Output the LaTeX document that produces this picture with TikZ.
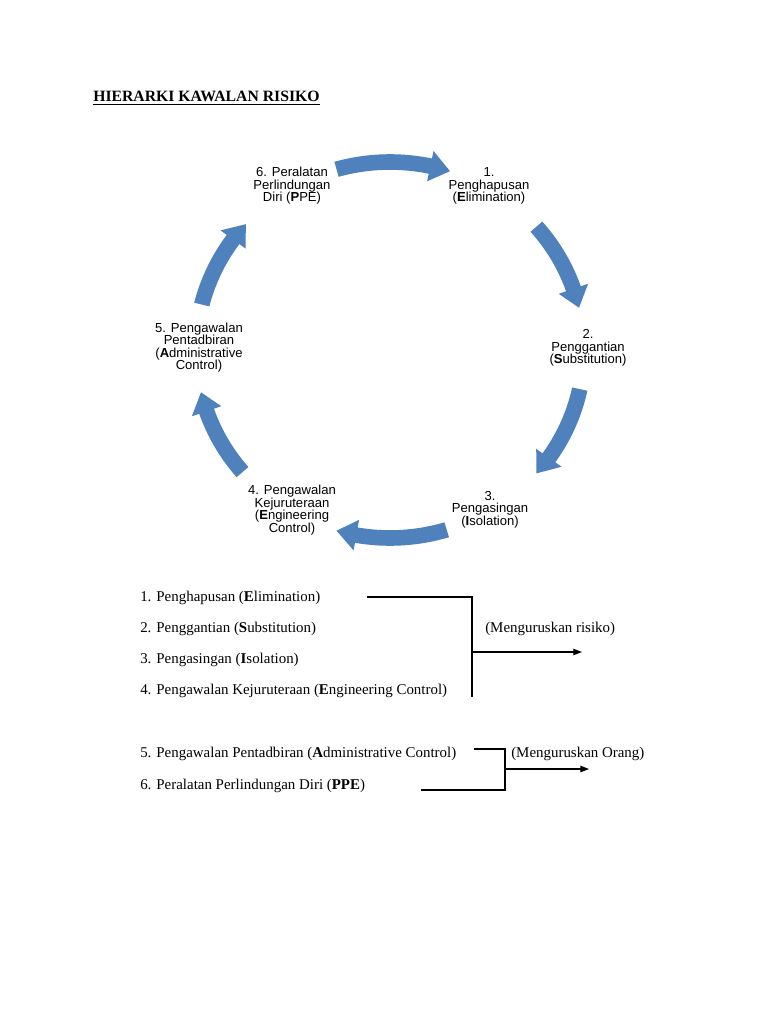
\documentclass[tikz,border=0pt]{standalone}
\usepackage{fontspec}
\setmainfont{Liberation Serif}
\newfontfamily\arialf{Liberation Sans}
\usetikzlibrary{arrows.meta}
\definecolor{arrowblue}{RGB}{79,129,189}
\newcommand\cx{390}
\newcommand\cy{350}
\newcommand\Rx{194}
\newcommand\Ry{188}
\newcommand\aw{7.8}
\newcommand\ah{15.5}
\newcommand\cycarrow[3]{%
  \fill[arrowblue] plot[domain=#1:#2, samples=24] ({\cx+(\Rx+\aw)*cos(\x)},{\cy-(\Ry+\aw)*sin(\x)})
   -- ({\cx+(\Rx+\ah)*cos(#2)},{\cy-(\Ry+\ah)*sin(#2)})
   -- ({\cx+\Rx*cos(#3)},{\cy-\Ry*sin(#3)})
   -- ({\cx+(\Rx-\ah)*cos(#2)},{\cy-(\Ry-\ah)*sin(#2)})
   -- plot[domain=#2:#1, samples=24] ({\cx+(\Rx-\aw)*cos(\x)},{\cy-(\Ry-\aw)*sin(\x)}) -- cycle;}
\begin{document}
\begin{tikzpicture}[x=0.75pt,y=-0.75pt,
  lbl/.style={font=\arialf\fontsize{9.8}{9.4}\selectfont, align=center, inner sep=0},
  item/.style={font=\fontsize{11.2}{13}\selectfont, anchor=west, inner sep=0},
  conn/.style={line width=0.8pt},
  connarrow/.style={line width=0.8pt,-{Triangle[length=6.5pt,width=4.8pt]}}]
\useasboundingbox (0,0) rectangle (768,1024);
\fill[white] (0,0) rectangle (768,1024);

\node[anchor=base west, inner sep=0, font=\bfseries\fontsize{11.8}{13}\selectfont] (title) at (93,102) {\underline{HIERARKI KAWALAN RISIKO}};

% cycle arrows
\cycarrow{106}{78}{72}
\cycarrow{41}{19}{13}
\cycarrow{-12}{-35}{-41}
\cycarrow{-73}{-100}{-106}
\cycarrow{-139.5}{-161}{-167}
\cycarrow{166}{144}{138}

% cycle labels
\node[lbl] (s1) at (489,186) {1.\\Penghapusan\\(\textbf{E}limination)};
\node[lbl] (s2) at (588,348) {2.\\Penggantian\\(\textbf{S}ubstitution)};
\node[lbl] (s3) at (490,509.5) {3.\\Pengasingan\\(\textbf{I}solation)};
\node[lbl] (s4) at (292,510) {4. Pengawalan\\Kejuruteraan\\(\textbf{E}ngineering\\Control)};
\node[lbl] (s5) at (199,347.5) {5. Pengawalan\\Pentadbiran\\(\textbf{A}dministrative\\Control)};
\node[lbl] (s6) at (292,186) {6. Peralatan\\Perlindungan\\Diri (\textbf{P}PE)};

% lists
\node[item] (i1) at (140,598) {1. Penghapusan (\textbf{E}limination)};
\node[item] (i2) at (140,629) {2. Penggantian (\textbf{S}ubstitution)};
\node[item] (i3) at (140,660) {3. Pengasingan (\textbf{I}solation)};
\node[item] (i4) at (140,691) {4. Pengawalan Kejuruteraan (\textbf{E}ngineering Control)};
\node[item] (risiko) at (485,629) {(Menguruskan risiko)};

\coordinate (r1) at (367,597);
\coordinate (r2) at (472,597);
\coordinate (r3) at (472,697);
\coordinate (r4) at (472,652);
\coordinate (r5) at (582,652);
\draw[conn] (r1) -- (r2) -- (r3);
\draw[connarrow] (r4) -- (r5);

\node[item] (i5) at (140,754) {5. Pengawalan Pentadbiran (\textbf{A}dministrative Control)};
\node[item] (i6) at (140,786) {6. Peralatan Perlindungan Diri (\textbf{PPE})};
\node[item] (orang) at (511,754) {(Menguruskan Orang)};

\coordinate (o1) at (474,749);
\coordinate (o2) at (505,749);
\coordinate (o3) at (505,790);
\coordinate (o4) at (421,790);
\coordinate (o5) at (505,769);
\coordinate (o6) at (589,769);
\draw[conn] (o1) -- (o2) -- (o3) -- (o4);
\draw[connarrow] (o5) -- (o6);
\end{tikzpicture}
\end{document}
